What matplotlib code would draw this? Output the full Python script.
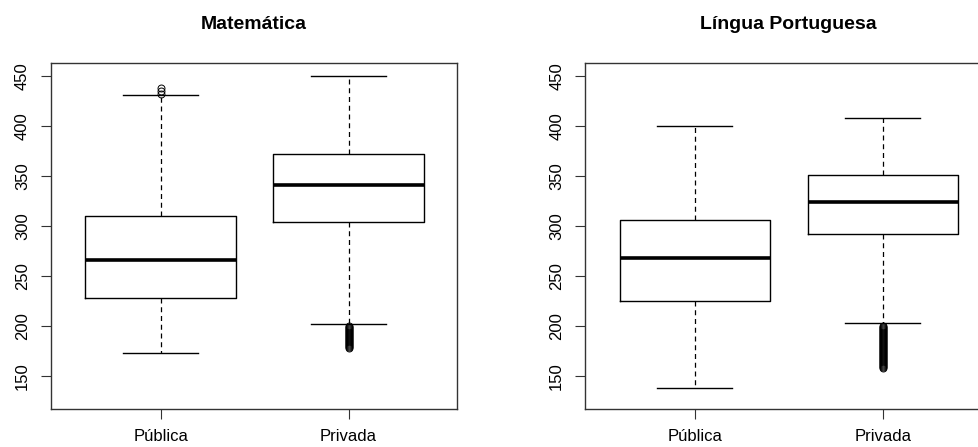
import matplotlib
matplotlib.use("Agg")
import matplotlib.pyplot as plt

plt.rcParams['font.family'] = ['Liberation Sans', 'DejaVu Sans']

# categorias
grupos = ["Pública", "Privada"]
titulos = ["Matemática", "Língua Portuguesa"]

# resumo dos boxplots: (whisker inf, Q1, mediana, Q3, whisker sup)
mat_publica = [173, 228, 266, 310, 431]
mat_privada = [202, 304, 341, 372, 450]
port_publica = [138, 225, 268, 306, 400]
port_privada = [203, 292, 324, 351, 408]

# outliers
mat_publica_out = [432, 435, 438]
mat_privada_out = [200, 199, 198, 197, 196, 195, 194, 193, 192, 191, 190, 189,
                   188, 187, 186, 185, 184, 183, 182, 181, 180, 179, 178]
port_publica_out = []
port_privada_out = [200, 199, 198, 197, 196, 195, 194, 193, 192, 191, 190, 189,
                    188, 187, 186, 185, 184, 183, 182, 181, 180, 179, 178, 177,
                    176, 175, 174, 173, 172, 171, 170, 169, 168, 167, 166, 165,
                    164, 163, 162, 161, 160, 159, 158]

yticks = [150, 200, 250, 300, 350, 400, 450]


def stats(resumo, outliers, nome):
    lo, q1, med, q3, hi = resumo
    return dict(label=nome, whislo=lo, q1=q1, med=med, q3=q3, whishi=hi, fliers=outliers)


dados = [
    [stats(mat_publica, mat_publica_out, grupos[0]), stats(mat_privada, mat_privada_out, grupos[1])],
    [stats(port_publica, port_publica_out, grupos[0]), stats(port_privada, port_privada_out, grupos[1])],
]

W, H = 979, 447
fig = plt.figure(figsize=(W / 100, H / 100), dpi=100)
lefts = [50.7, 585]
for k in range(2):
    ax = fig.add_axes([lefts[k] / W, (H - 409.3) / H, 406.6 / W, 346.6 / H])
    ax.bxp(dados[k], positions=[1, 2], widths=0.8,
           boxprops=dict(color='black', lw=1.0),
           medianprops=dict(color='black', lw=2.6, solid_capstyle='butt'),
           whiskerprops=dict(color='black', lw=0.9, linestyle=(0, (4, 3))),
           capprops=dict(color='black', lw=1.0),
           capwidths=0.4,
           flierprops=dict(marker='o', markersize=5, markerfacecolor='none',
                           markeredgecolor='black', markeredgewidth=0.7))
    ax.set_xlim(0.415, 2.579)
    ax.set_ylim(116.4, 463)
    ax.set_yticks(yticks)
    ax.set_yticklabels([str(v) for v in yticks], rotation=90, va='center', fontsize=12)
    ax.set_xticks([1, 2])
    ax.set_xticklabels(grupos, fontsize=12)
    ax.tick_params(length=7, width=0.8, color='#333333')
    ax.tick_params(axis='y', pad=8)
    ax.tick_params(axis='x', pad=7)
    for s in ax.spines.values():
        s.set_color('#333333')
        s.set_linewidth(1.0)
    ax.set_title(titulos[k], fontsize=14, fontweight='bold', pad=24)

fig.savefig("out.png", dpi=100)
